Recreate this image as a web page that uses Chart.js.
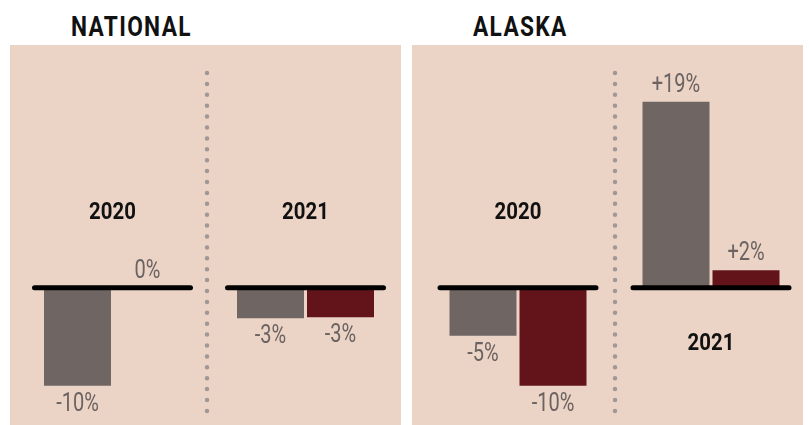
<!DOCTYPE html>
<html><head><meta charset="utf-8">
<script src="https://cdn.jsdelivr.net/npm/chart.js@4"></script>
<style>
html,body{margin:0;padding:0;}
body{width:809px;height:425px;background:#fff;position:relative;overflow:hidden;font-family:Roboto,"Liberation Sans",sans-serif;}
.panel{position:absolute;top:45px;height:380px;background:#ebd3c6;}
.title{position:absolute;top:14px;font-weight:bold;font-size:27px;line-height:27px;letter-spacing:1.6px;color:#111;white-space:nowrap;transform:scaleX(0.84);transform-origin:0 0;}
.wrap{position:absolute;top:45px;height:380px;}
</style></head>
<body>
<div class="panel" style="left:10px;width:391px;"></div>
<div class="panel" style="left:412px;width:391px;"></div>
<div class="title" style="left:71px;">NATIONAL</div>
<div class="title" style="left:473px;">ALASKA</div>
<div class="wrap" style="left:0px;width:404px;"><canvas id="c1"></canvas></div>
<div class="wrap" style="left:404px;width:405px;"><canvas id="c2"></canvas></div>
<script>
const categories = ["2020", "2021"];
const nationalGrey = [-10, -3.1];
const nationalRed = [0, -3.0];
const nationalGreyLabels = ["-10%", "-3%"];
const nationalRedLabels = ["0%", "-3%"];
const alaskaGrey = [-4.9, 19];
const alaskaRed = [-10, 1.8];
const alaskaGreyLabels = ["-5%", "+19%"];
const alaskaRedLabels = ["-10%", "+2%"];

const GREY = "#6f6663";
const RED = "#63141b";

function narrowText(ctx, text, x, y, sx) {
  ctx.save();
  ctx.translate(x, y);
  ctx.scale(sx, 1);
  ctx.fillText(text, 0, 0);
  ctx.restore();
}

const decorPlugin = {
  id: "decor",
  afterDatasetsDraw(chart, args, opts) {
    const ctx = chart.ctx;
    const xs = chart.scales.x, ys = chart.scales.y;
    const y0 = ys.getPixelForValue(0);
    ctx.save();
    // separator dots
    const sx = (xs.getPixelForValue(0) + xs.getPixelForValue(1)) / 2 + (opts.sepShift || 0);
    ctx.strokeStyle = "#a29797";
    ctx.lineWidth = 4.5;
    ctx.lineCap = "round";
    ctx.setLineDash([0, 10.9]);
    ctx.beginPath();
    ctx.moveTo(sx, chart.chartArea.top + opts.sepTop);
    ctx.lineTo(sx, chart.chartArea.top + opts.sepBottom);
    ctx.stroke();
    ctx.setLineDash([]);
    // baselines
    ctx.strokeStyle = "#000";
    ctx.lineWidth = 5;
    ctx.lineCap = "round";
    categories.forEach((c, i) => {
      const cx = xs.getPixelForValue(i);
      ctx.beginPath();
      ctx.moveTo(cx - 78, y0);
      ctx.lineTo(cx + 78, y0);
      ctx.stroke();
    });
    // value labels
    ctx.font = "25px Roboto, 'Liberation Sans', sans-serif";
    ctx.fillStyle = "#6b6361";
    ctx.textAlign = "center";
    ctx.textBaseline = "middle";
    chart.data.datasets.forEach((ds, di) => {
      const meta = chart.getDatasetMeta(di);
      meta.data.forEach((bar, i) => {
        const v = ds.data[i];
        const ty = v < 0 ? bar.y + 19 : bar.y - 16;
        narrowText(ctx, ds.valueLabels[i], bar.x, ty, 0.8);
      });
    });
    // year labels
    ctx.font = "bold 24px Roboto, 'Liberation Sans', sans-serif";
    ctx.fillStyle = "#111";
    categories.forEach((c, i) => {
      narrowText(ctx, c, xs.getPixelForValue(i), y0 + opts.yearOffsets[i], 0.85);
    });
    ctx.restore();
  }
};

function makeChart(id, greyVals, redVals, greyLabels, redLabels, padL, padR, yearOffsets, sepBottom, sepShift) {
  return new Chart(document.getElementById(id), {
    type: "bar",
    data: {
      labels: categories,
      datasets: [
        { data: greyVals, backgroundColor: GREY, valueLabels: greyLabels },
        { data: redVals, backgroundColor: RED, valueLabels: redLabels }
      ]
    },
    options: {
      responsive: true,
      maintainAspectRatio: false,
      animation: false,
      events: [],
      layout: { padding: { left: padL, right: padR, top: 0, bottom: 0 } },
      datasets: { bar: { barPercentage: 0.957, categoryPercentage: 0.7254, borderWidth: 0 } },
      scales: {
        x: { display: false, grid: { display: false } },
        y: { display: false, min: -14, max: 24.78 }
      },
      plugins: {
        legend: { display: false },
        tooltip: { enabled: false },
        decor: { yearOffsets: yearOffsets, sepTop: 28, sepBottom: sepBottom, sepShift: sepShift }
      }
    },
    plugins: [decorPlugin]
  });
}

makeChart("c1", nationalGrey, nationalRed, nationalGreyLabels, nationalRedLabels, 16, 2, [-75, -75], 367, -2);
makeChart("c2", alaskaGrey, alaskaRed, alaskaGreyLabels, alaskaRedLabels, 17.5, 1.5, [-75, 56], 372, 0.5);
</script>
</body></html>
